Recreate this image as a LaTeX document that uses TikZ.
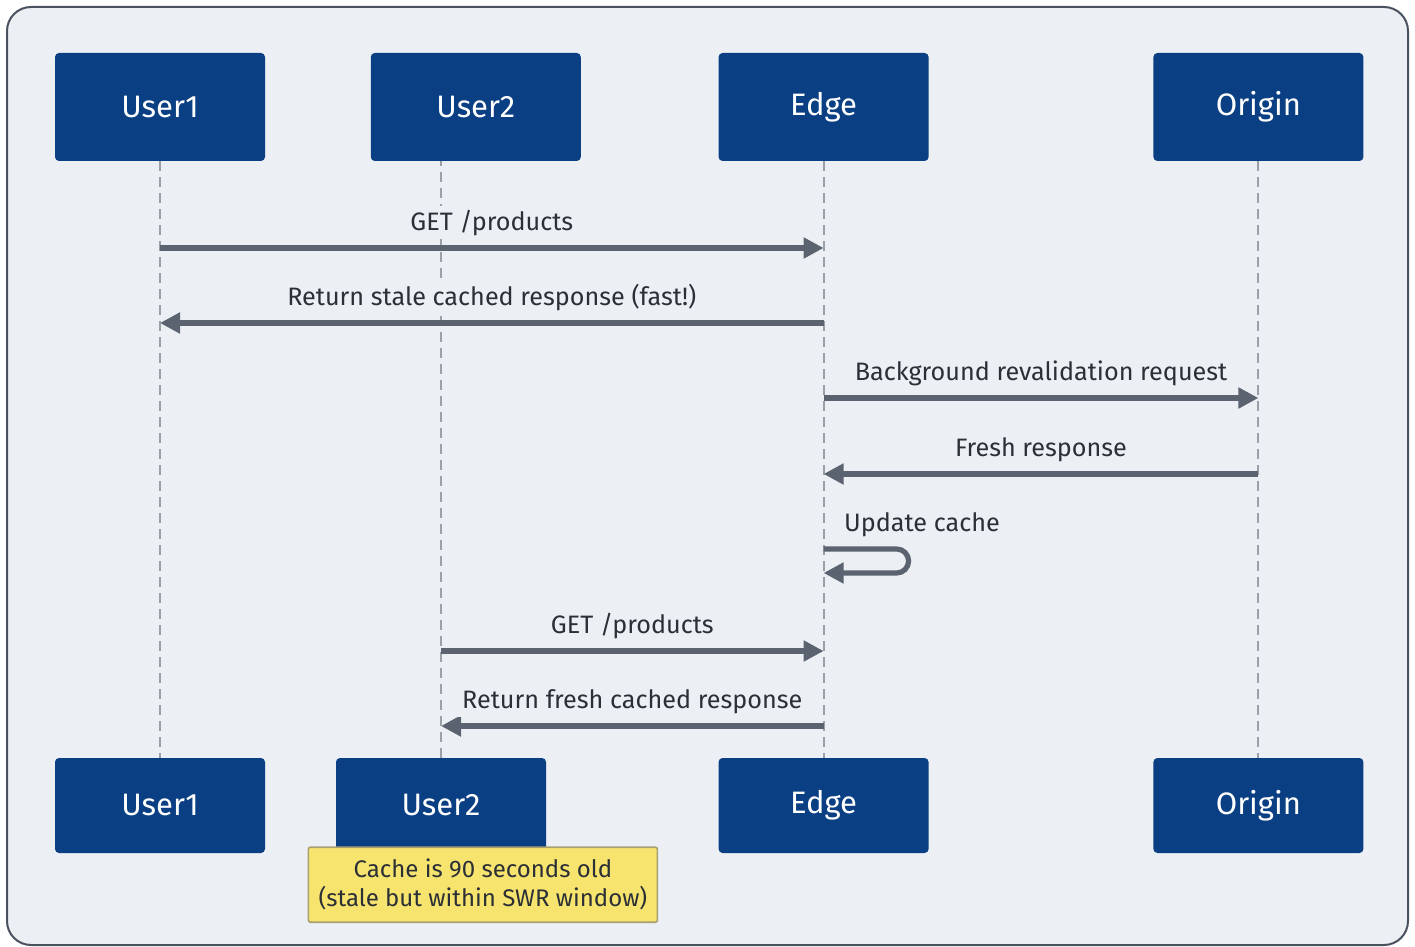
\documentclass[tikz,border=0pt]{standalone}
\usepackage{fontspec}
\setmainfont{Fira Sans}
\usetikzlibrary{arrows.meta, positioning, calc}
\definecolor{navy}{HTML}{0A3F83}
\definecolor{panel}{HTML}{ECF0F4}
\definecolor{frameline}{HTML}{4A5260}
\definecolor{msggray}{HTML}{5C6370}
\definecolor{lifegray}{HTML}{9AA0A8}
\definecolor{txtdark}{HTML}{2B2F36}
\definecolor{notefill}{HTML}{F6E46E}
\definecolor{noteline}{HTML}{A8A070}
\tikzset{
  actor/.style={rectangle, fill=navy, rounded corners=2pt,
                minimum width=105pt, minimum height=54pt,
                text=white, font=\fontsize{15.5}{18}\selectfont},
  actorb/.style={actor, minimum height=47.5pt},
  life/.style={lifegray, line width=1pt, dash pattern=on 5pt off 3pt},
  msg/.style={-{Triangle[length=10pt, width=10pt]}, msggray, line width=2.6pt},
  lbl/.style={text=txtdark, fill=panel, inner sep=2pt,
              font=\fontsize{12.6}{15}\selectfont},
  note/.style={rectangle, draw=noteline, fill=notefill, line width=0.8pt,
               rounded corners=1pt, minimum width=174.5pt, minimum height=37.5pt,
               align=center, text=txtdark, font=\fontsize{12}{14.5}\selectfont},
}

\begin{document}
\begin{tikzpicture}[x=0.5pt, y=-0.5pt]
  \useasboundingbox (0,0) rectangle (1415,947);
  \draw[fill=panel, draw=frameline, line width=1pt, rounded corners=12pt]
    (7,7) rectangle (1408,945);

  % participants, top row
  \node[actor] (u1) at (160,107) {User1};
  \node[actor, right=52.5pt of u1] (u2) {User2};
  \node[actor, right=68.5pt of u2] (edge) {Edge};
  \node[actor, right=112pt of edge] (origin) {Origin};

  % participants, bottom row
  \node[actorb] (u1b) at (160,805.5) {User1};
  \node[actorb] (u2b) at (441,805.5) {User2};
  \node[actorb] (edgeb) at (u1b -| edge) {Edge};
  \node[actorb] (originb) at (u1b -| origin) {Origin};

  % lifelines
  \draw[life] (u1) -- (u1b);
  \draw[life] (u2b.north) -- (u2b.north |- u2.south);
  \draw[life] (edge) -- (edgeb);
  \draw[life] (origin) -- (originb);

  % message points on the lifelines
  \foreach \n/\y in {1/248, 2/323, 3/398, 4/474, 5/549, 6/651, 7/726} {
    \coordinate (u1-\n) at (u1b.north |- 0,\y);
    \coordinate (u2-\n) at (u2b.north |- 0,\y);
    \coordinate (edge-\n) at (edgeb.north |- 0,\y);
    \coordinate (origin-\n) at (originb.north |- 0,\y);
  }

  % messages
  \draw[msg] (u1-1) -- node[lbl, above=3pt] {GET /products} (edge-1);
  \draw[msg] (edge-2) -- node[lbl, above=3pt] {Return stale cached response (fast!)} (u1-2);
  \draw[msg] (edge-3) -- node[lbl, above=3pt] {Background revalidation request} (origin-3);
  \draw[msg] (origin-4) -- node[lbl, above=3pt] {Fresh response} (edge-4);
  \draw[msg, rounded corners=6pt] (edge-5)
    node[lbl, above right=3pt and 7pt] {Update cache}
    -- ++(85,0) -- ++(0,24) -- ++(-85,0);
  \draw[msg] (u2-6) -- node[lbl, above=3pt] {GET /products} (edge-6);
  \draw[msg] (edge-7) -- node[lbl, above=3pt] {Return fresh cached response} (u2-7);

  % note under User2
  \node[note, anchor=north west] (swr) at ([shift={(-28,-7)}]u2b.south west)
    {Cache is 90 seconds old\\(stale but within SWR window)};
\end{tikzpicture}
\end{document}
